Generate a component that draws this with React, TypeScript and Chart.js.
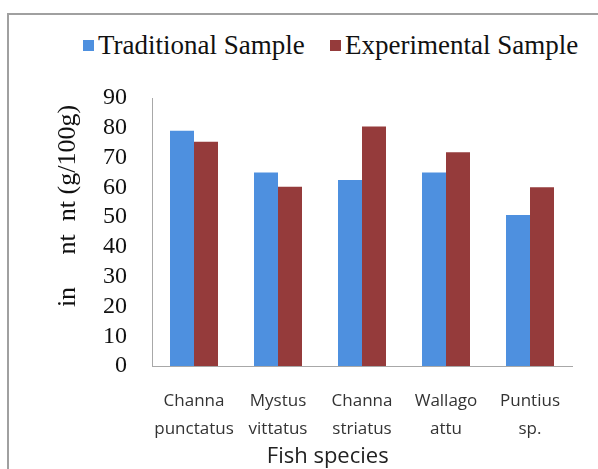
import React, { useEffect, useRef } from "react";
import { Chart, registerables } from "chart.js";

Chart.register(...registerables);

const categories: string[][] = [
  ["Channa", "punctatus"],
  ["Mystus", "vittatus"],
  ["Channa", "striatus"],
  ["Wallago", "attu"],
  ["Puntius", "sp."],
];
const traditional: number[] = [79, 65, 62.5, 65, 50.7];
const experimental: number[] = [75.3, 60.2, 80.4, 71.8, 60];
const seriesNames: string[] = ["Traditional Sample", "Experimental Sample"];
const yTitle = "in     nt  nt (g/100g)";
const xTitle = "Fish species";

const BLUE = "#4E90DF";
const RED = "#953B3B";

export default function App() {
  const ref = useRef<HTMLCanvasElement>(null);
  useEffect(() => {
    if (!ref.current) return;
    const chart = new Chart(ref.current, {
      type: "bar",
      data: {
        labels: categories,
        datasets: [
          { label: seriesNames[0], data: traditional, backgroundColor: BLUE, categoryPercentage: 0.5714, barPercentage: 1 },
          { label: seriesNames[1], data: experimental, backgroundColor: RED, categoryPercentage: 0.5714, barPercentage: 1 },
        ],
      },
      options: {
        animation: false,
        responsive: false,
        maintainAspectRatio: false,
        layout: { padding: { top: 98, right: 26, left: 0, bottom: 0 } },
        plugins: { legend: { display: false }, tooltip: { enabled: false } },
        scales: {
          x: {
            grid: { display: false, drawTicks: false },
            border: { display: true, color: "#a8a8a8", width: 1 },
            ticks: {
              color: "#333",
              padding: 22,
              font: { family: "Open Sans", size: 17, lineHeight: 1.6 },
              maxRotation: 0,
              autoSkip: false,
            },
            title: {
              display: true,
              text: xTitle + " ".repeat(12),
              color: "#222",
              font: { family: "Open Sans", size: 22, lineHeight: 1.05 },
              padding: { top: 0, bottom: 1 },
            },
            afterFit: (s: any) => { s.height = 103; },
          },
          y: {
            min: 0,
            max: 90,
            grid: { display: false, drawTicks: false },
            border: { display: true, color: "#a8a8a8", width: 1 },
            ticks: {
              stepSize: 10,
              autoSkip: false,
              color: "#111",
              padding: 25,
              font: { family: "Liberation Serif", size: 24, lineHeight: 1 },
            },
            title: {
              display: true,
              text: " ".repeat(8) + yTitle,
              color: "#111",
              font: { family: "Liberation Serif", size: 26, lineHeight: 1.2 },
              padding: { top: 53, bottom: 0 },
            },
            afterFit: (s: any) => { s.width = 152; },
          },
        },
      },
    });
    return () => chart.destroy();
  }, []);

  const legendItem = (color: string, text: string, left: number) => (
    <div style={{ position: "absolute", left, top: 29, display: "flex", alignItems: "center", whiteSpace: "nowrap" }}>
      <span style={{ display: "inline-block", width: 11, height: 11, background: color, marginRight: 4 }} />
      <span style={{ fontFamily: "Liberation Serif", fontSize: 27, color: "#111", lineHeight: "32px" }}>{text}</span>
    </div>
  );

  return (
    <div style={{ position: "fixed", left: 0, top: 0, width: 598, height: 469, overflow: "hidden", background: "#fff" }}>
      <div style={{ position: "absolute", left: 7, top: 13, width: 620, height: 480, borderLeft: "2px solid #a0a0a0", borderTop: "2px solid #a0a0a0" }} />
      {legendItem(BLUE, seriesNames[0], 83)}
      {legendItem(RED, seriesNames[1], 330)}
      <canvas ref={ref} width={598} height={469} style={{ position: "absolute", left: 0, top: 0, width: 598, height: 469 }} />
    </div>
  );
}
